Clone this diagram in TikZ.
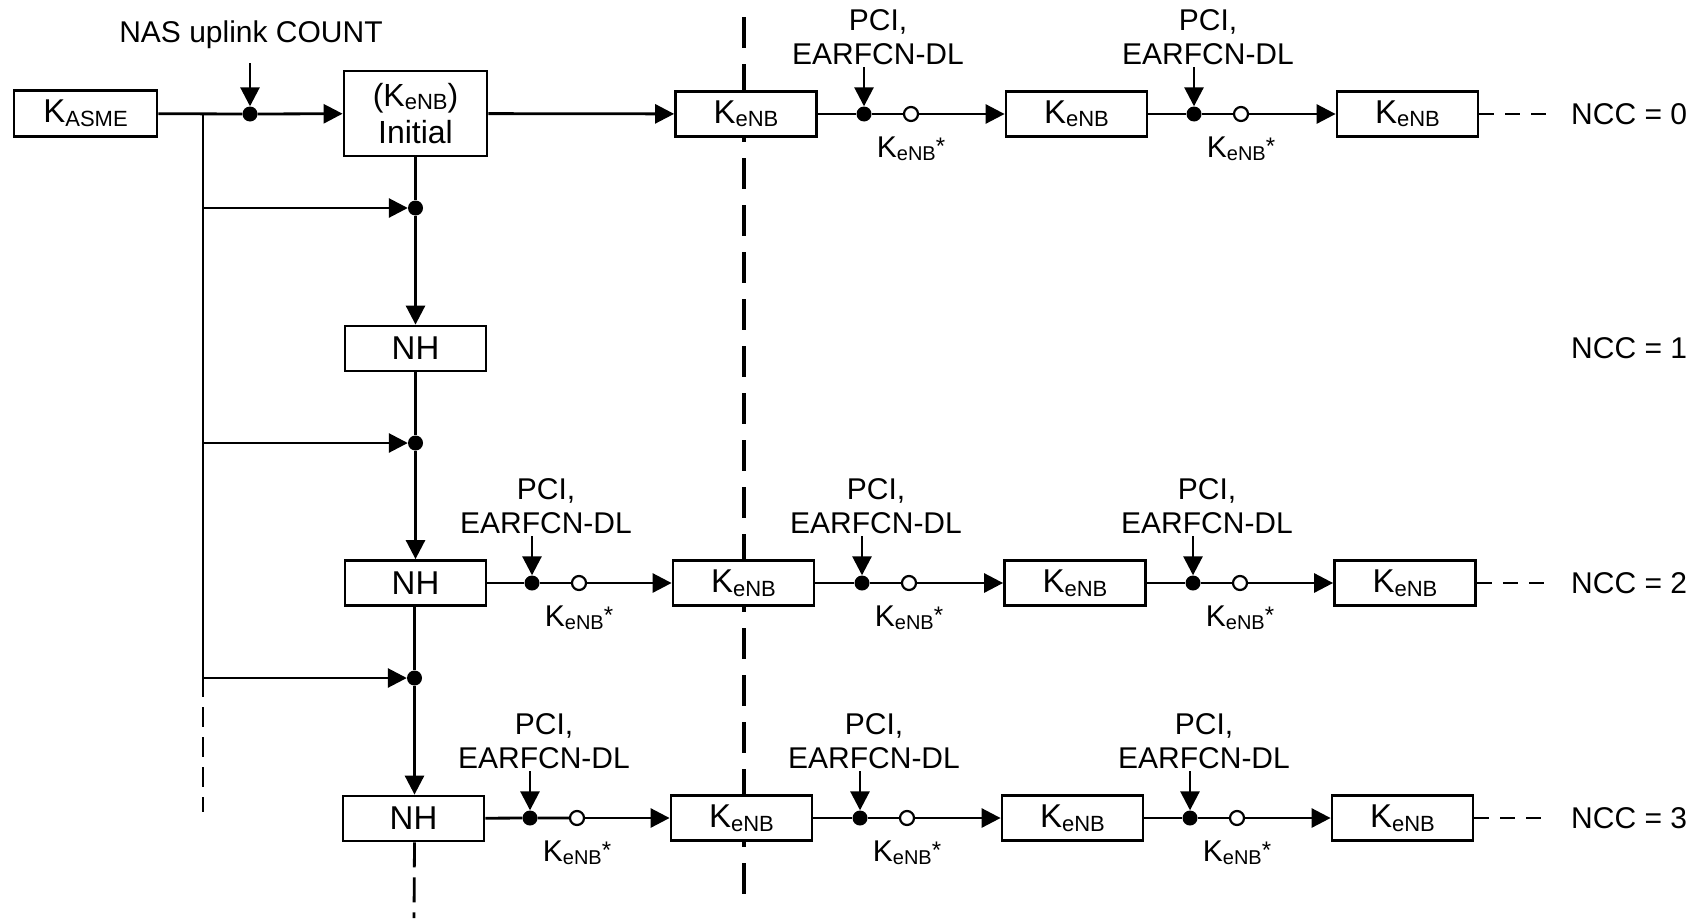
\documentclass[tikz,border=0pt]{standalone}
\usepackage{fontspec}
\setmainfont{Liberation Sans}
\usetikzlibrary{arrows.meta}
\newcommand{\mainsz}{\fontsize{30}{36}\selectfont}
\newcommand{\boxsz}{\fontsize{33}{38}\selectfont}
\newcommand{\mysub}[1]{\raisebox{-3pt}{\fontsize{20}{20}\selectfont #1}}
\newcommand{\mysubb}[1]{\raisebox{-3.5pt}{\fontsize{22}{22}\selectfont #1}}
\newcommand{\KeNB}{K\mysubb{eNB}}
\newcommand{\KeNBs}{K\mysub{eNB}\raisebox{3pt}{\fontsize{24}{24}\selectfont *}}
\newcommand{\stage}[5]{%
  \node[dotf] (d#1) at (#2,#3) {};
  \node[doto] (o#1) at ({#2+47},#3) {};
  \coordinate (p#1) at (#2,{#3-47});
  \node[txt] (pci#1) at ({#2+14},{#3-84}) {PCI,};
  \node[txt] (ear#1) at ({#2+14},{#3-50}) {EARFCN-DL};
  \node[txt] (ks#1) at ({#2+47},{#3+43}) {\KeNBs};
  \draw[ln] (#4) -- (d#1) -- (o#1);
  \draw[arr] (p#1) -- (d#1);
  \draw[arr] (o#1) -- (#5);
}
\tikzset{
  ln/.style={line width=2.8pt},
  arr/.style={ln, -{Triangle[length=19pt,width=19pt]}},
  box/.style={draw, line width=2.8pt, fill=white, minimum width=141pt, minimum height=45pt, inner sep=0pt, font=\boxsz},
  dotf/.style={circle, fill=black, minimum size=15pt, inner sep=0pt},
  doto/.style={circle, draw, line width=2.2pt, fill=white, minimum size=14pt, inner sep=0pt},
  txt/.style={inner sep=0pt, font=\mainsz, anchor=base},
  trail/.style={ln, dash pattern=on 15pt off 11pt},
}
\begin{document}
\begin{tikzpicture}[x=1pt,y=-1pt]
\useasboundingbox (0,0) rectangle (1693,918);
% central dashed separator
\coordinate (sepTop) at (744,17);
\coordinate (sepBot) at (744,900);
\draw[line width=4pt, dash pattern=on 31pt off 16pt] (sepTop) -- (sepBot);

% left column
\node[box, minimum width=143pt, minimum height=46pt] (kasme) at (85.5,113.5) {K\mysubb{ASME}};
\node[dotf] (nas) at (250,114) {};
\coordinate (nasTop) at (250,63);
\node[txt] (nasTxt) at (251,42) {NAS uplink COUNT};
\node[box, minimum width=143pt, minimum height=85pt, align=center, font=\fontsize{32}{37}\selectfont] (init) at (415.5,113.5) {(\KeNB)\\Initial};
\draw[ln] (kasme) -- (nas);
\draw[arr] (nasTop) -- (nas);
\draw[arr] (nas) -- (init);

% bus
\coordinate (bus0) at (203,114);
\coordinate (bus1) at (203,208);
\coordinate (bus2) at (203,443);
\coordinate (bus3) at (203,678);
\coordinate (bus4) at (203,697);
\coordinate (bus5) at (203,812);
\draw[ln] (bus0) -- (bus4);
\draw[ln, dash pattern=on 20pt off 10pt, dash phase=20pt] (bus4) -- (bus5);

\node[dotf] (b1) at (415.5,208) {};
\node[dotf] (b2) at (415.5,443) {};
\node[dotf] (b3) at (414.5,678) {};
\draw[arr] (bus1) -- (b1);
\draw[arr] (bus2) -- (b2);
\draw[arr] (bus3) -- (b3);

\node[box] (nh1) at (415.5,348.5) {NH};
\node[box] (nh2) at (415.5,583) {NH};
\node[box] (nh3) at (413.5,818.5) {NH};
\coordinate (nhEnd) at (414,918);

\draw[ln] (init) -- (b1);
\draw[arr] (b1) -- (nh1);
\draw[ln] (nh1) -- (b2);
\draw[arr] (b2) -- (nh2);
\draw[ln] (nh2.south -| b3) -- (b3);
\draw[arr] (b3) -- (nh3.north -| b3);
\draw[ln, dash pattern=on 25pt off 10pt] (nh3.south -| b3) -- (nhEnd);

% row 0
\node[box] (k01) at (746,114) {\KeNB};
\node[box] (k02) at (1076.5,114) {\KeNB};
\node[box] (k03) at (1407.5,114) {\KeNB};
\draw[arr] (init) -- (k01);
\stage{a01}{864}{114}{k01}{k02}
\stage{a02}{1194}{114}{k02}{k03}

% row 2
\node[box] (k21) at (743.5,583) {\KeNB};
\node[box] (k22) at (1075,583) {\KeNB};
\node[box] (k23) at (1405,583) {\KeNB};
\stage{a20}{532}{583}{nh2}{k21}
\stage{a21}{862}{583}{k21}{k22}
\stage{a22}{1193}{583}{k22}{k23}

% row 3
\node[box] (k31) at (741.5,818) {\KeNB};
\node[box] (k32) at (1072.5,818) {\KeNB};
\node[box] (k33) at (1402.5,818) {\KeNB};
\stage{a30}{530}{818}{nh3}{k31}
\stage{a31}{860}{818}{k31}{k32}
\stage{a32}{1190}{818}{k32}{k33}

% trailing dashes and NCC labels
\coordinate (t0) at (1546,114);
\coordinate (t2) at (1546,583);
\coordinate (t3) at (1546,818);
\draw[trail] (k03) -- (t0);
\draw[trail] (k23) -- (t2);
\draw[trail] (k33) -- (t3);
\node[txt, anchor=west] (ncc0) at (1571,114) {NCC = 0};
\node[txt, anchor=west] (ncc1) at (1571,348) {NCC = 1};
\node[txt, anchor=west] (ncc2) at (1571,583) {NCC = 2};
\node[txt, anchor=west] (ncc3) at (1571,818) {NCC = 3};
\end{tikzpicture}
\end{document}
